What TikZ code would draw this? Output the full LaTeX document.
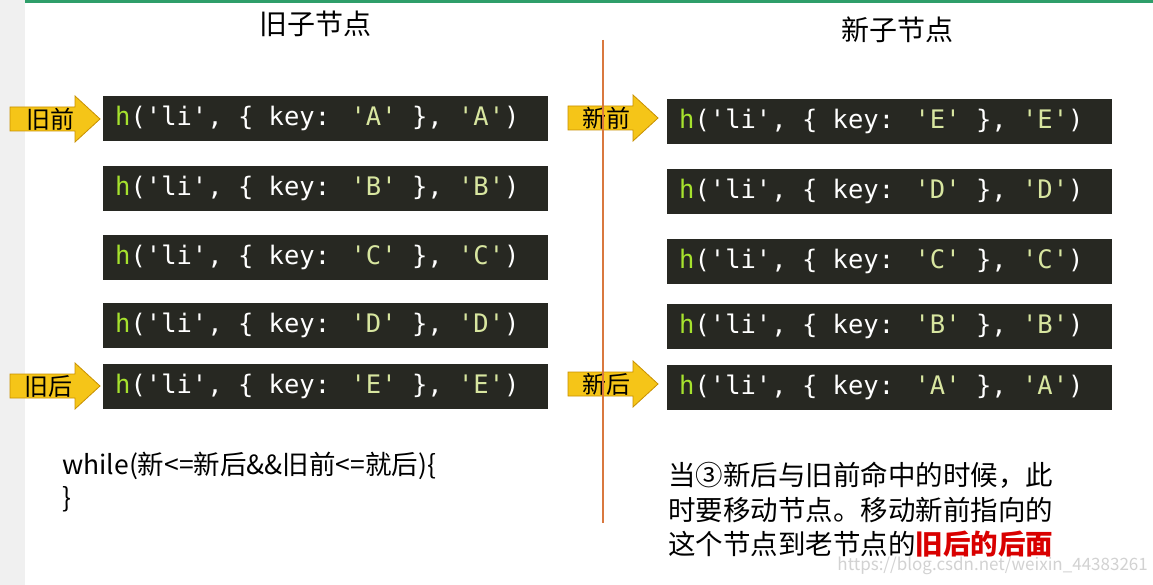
\documentclass[tikz,border=0pt]{standalone}
\usepackage{fontspec}
\setmainfont{Noto Sans CJK SC}
\newfontfamily\cjk{Noto Sans CJK SC}
\newfontfamily\codefont{DejaVu Sans Mono}
\definecolor{codebg}{HTML}{272822}
\definecolor{hgreen}{HTML}{A6E22E}
\definecolor{strc}{HTML}{D8E6A0}
\definecolor{arrowy}{HTML}{F5C518}
\definecolor{arrowb}{HTML}{C89000}
\definecolor{vline}{HTML}{D9783F}
\definecolor{topg}{HTML}{2E9E6A}
\begin{document}
\begin{tikzpicture}[x=1pt,y=-1pt,
  codebox/.style={fill=codebg,minimum width=445pt,minimum height=45pt,inner sep=0pt},
  codetxt/.style={text=white,font=\codefont\fontsize{25.5}{30}\selectfont,anchor=west,inner sep=0pt},
  arrlab/.style={font=\cjk\fontsize{24}{26}\selectfont,inner sep=0pt},
  title/.style={font=\cjk\fontsize{28}{32}\selectfont,inner sep=0pt}]
\useasboundingbox (0,0) rectangle (1153,585);
\fill[white] (0,0) rectangle (1153,585);
\fill[gray!12] (0,0) rectangle (25,585);
\fill[topg] (25,0) rectangle (1153,3);
\newcommand{\codeline}[4]{%
  \node[codebox,anchor=north west] (#1) at (#2,#3) {};
  \node[codetxt] (#1t) at ([xshift=12pt]#1.west) {\textcolor{hgreen}{h}('li', \{ key: \textcolor{strc}{'#4'} \}, \textcolor{strc}{'#4'})};}
\newcommand{\yarrow}[5]{%
  \fill[arrowy,draw=arrowb,line width=0.8pt] (#2,#3-12) -- (#2+65,#3-12) -- (#2+65,#3-23) -- (#2+90,#3) -- (#2+65,#3+23) -- (#2+65,#3+12) -- (#2,#3+12) -- cycle;
  \node[arrlab] (#1) at (#2+#5,#3) {#4};}
\node[title] (ot) at (315,24) {旧子节点};
\node[title] (nt) at (897,30) {新子节点};
\codeline{o1}{103}{96}{A}
\codeline{o2}{103}{166}{B}
\codeline{o3}{103}{235}{C}
\codeline{o4}{103}{303}{D}
\codeline{o5}{103}{364}{E}
\codeline{n1}{667}{99}{E}
\codeline{n2}{667}{169}{D}
\codeline{n3}{667}{239}{C}
\codeline{n4}{667}{304}{B}
\codeline{n5}{667}{365}{A}
\yarrow{la}{10}{119}{旧前}{40}
\yarrow{lb}{10}{386}{旧后}{38}
\yarrow{ra}{568}{118}{新前}{38}
\yarrow{rb}{568}{384}{新后}{38}
\coordinate (vt) at (603,40);
\coordinate (vb) at (603,523);
\draw[vline,line width=2pt] (vt) -- (vb);
\node[font=\cjk\fontsize{26.5}{30}\selectfont,anchor=west,inner sep=0pt] (w1) at (62,466) {while(新<=新后\&\&旧前<=就后)\{};
\node[font=\cjk\fontsize{26.5}{30}\selectfont,anchor=west,inner sep=0pt] (w2) at (62,499) {\}};
\node[font=\cjk\fontsize{27.5}{34.5}\selectfont,anchor=north west,align=left,inner sep=0pt] (desc) at (668,462) {当③新后与旧前命中的时候，此\\时要移动节点。移动新前指向的\\这个节点到老节点的\textcolor{red!85!black}{\bfseries 旧后的后面}};
\node[font=\fontsize{17}{20}\selectfont,text=gray!35,anchor=east,inner sep=0pt] (wm) at (1148,566) {https://blog.csdn.net/weixin\_44383261};
\end{tikzpicture}
\end{document}
